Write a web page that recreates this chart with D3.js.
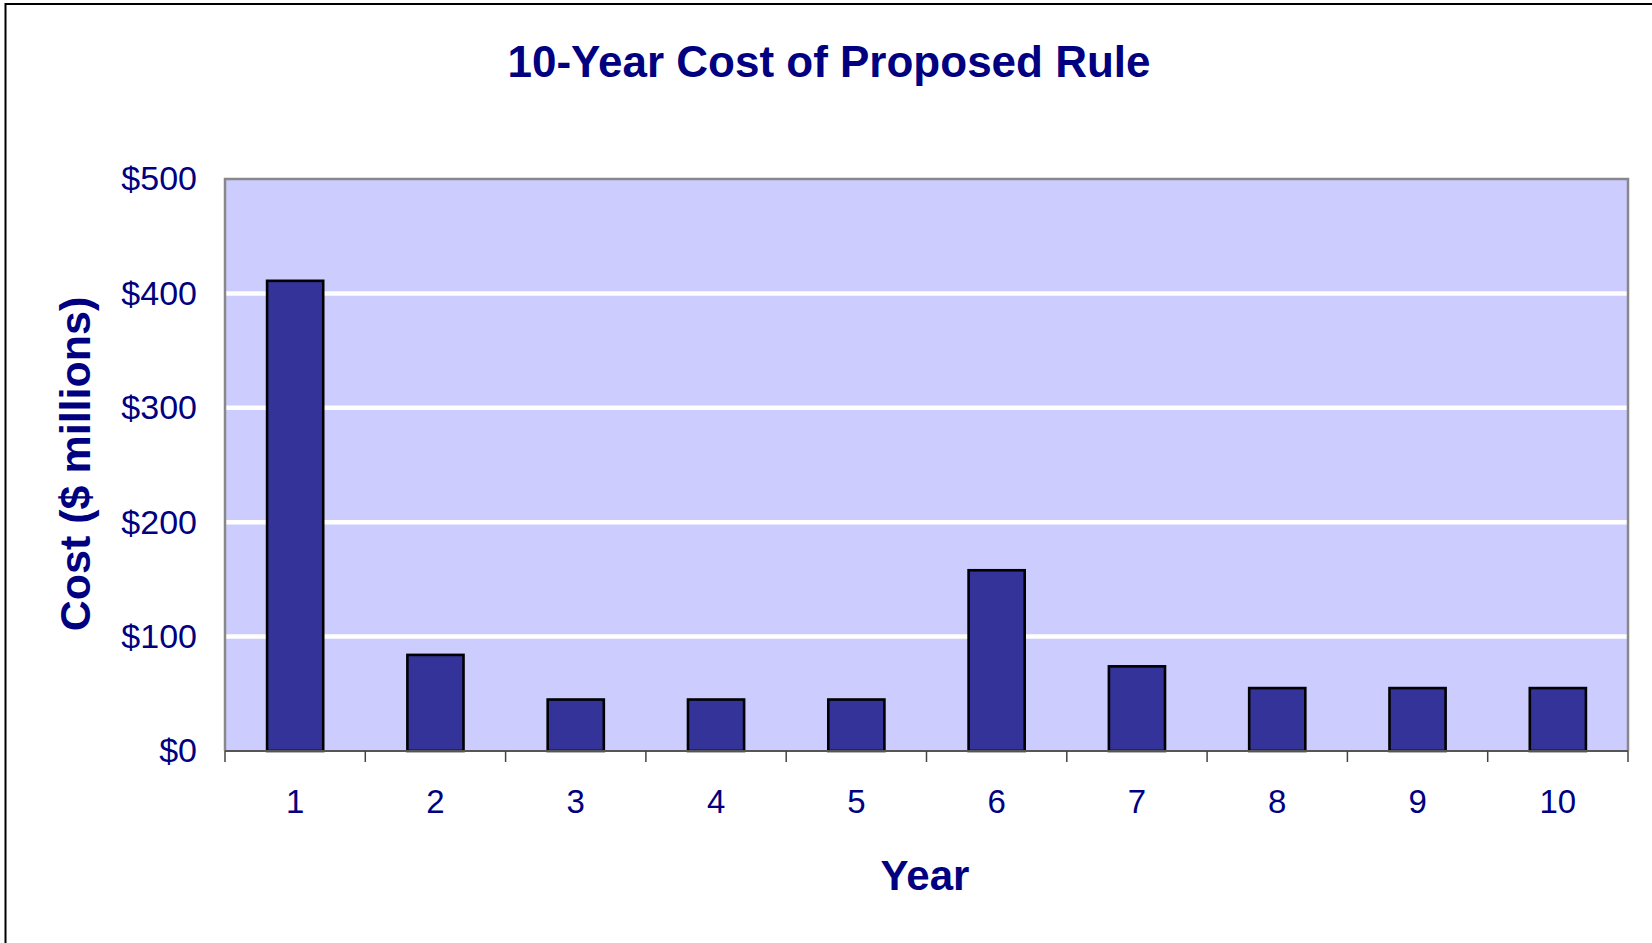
<!DOCTYPE html>
<html>
<head>
<meta charset="utf-8">
<script src="https://cdn.jsdelivr.net/npm/d3@7"></script>
<style>
  body { margin: 0; background: #fff; }
  svg { display: block; font-family: Arial, "Liberation Sans", sans-serif; }
  text { fill: #000080; }
</style>
</head>
<body>
<svg id="chart" width="1652" height="943"></svg>
<script>
const years = ['1', '2', '3', '4', '5', '6', '7', '8', '9', '10'];
const costs = [411, 84, 45, 45, 45, 158, 74, 55, 55, 55]; // $ millions
const yTicks = [0, 100, 200, 300, 400, 500];
const titleText = '10-Year Cost of Proposed Rule';
const xTitle = 'Year';
const yTitle = 'Cost ($ millions)';

const plot = { left: 225, right: 1628, top: 179, bottom: 751 };
const svg = d3.select('#chart');

// outer frame, runs off right and bottom edges like the source
svg.append('rect').attr('x', 5.5).attr('y', 4).attr('width', 1700).attr('height', 1000)
  .attr('fill', '#fff').attr('stroke', '#000').attr('stroke-width', 2);

const x = d3.scaleBand().domain(years).range([plot.left, plot.right]).padding(0);
const y = d3.scaleLinear().domain([0, 500]).range([plot.bottom, plot.top]);

// plot background
svg.append('rect').attr('x', plot.left).attr('y', plot.top)
  .attr('width', plot.right - plot.left).attr('height', plot.bottom - plot.top)
  .attr('fill', '#CCCCFF');

// gridlines
svg.append('g').selectAll('line').data(yTicks.filter(d => d > 0 && d < 500)).join('line')
  .attr('x1', plot.left).attr('x2', plot.right)
  .attr('y1', d => y(d)).attr('y2', d => y(d))
  .attr('stroke', '#fff').attr('stroke-width', 4.5);

// plot border (left, top, right)
svg.append('path')
  .attr('d', `M${plot.left},${plot.bottom}V${plot.top}H${plot.right}V${plot.bottom}`)
  .attr('fill', 'none').attr('stroke', '#888').attr('stroke-width', 2.5);

// bars
const bw = x.bandwidth() * 0.4;
svg.append('g').selectAll('rect').data(costs).join('rect')
  .attr('x', (d, i) => x(years[i]) + (x.bandwidth() - bw) / 2)
  .attr('y', d => y(d))
  .attr('width', bw)
  .attr('height', d => y(0) - y(d))
  .attr('fill', '#333399').attr('stroke', '#000').attr('stroke-width', 2.6);

// x axis: line, between-category ticks, labels
svg.append('line').attr('x1', plot.left).attr('x2', plot.right)
  .attr('y1', plot.bottom).attr('y2', plot.bottom)
  .attr('stroke', '#555').attr('stroke-width', 2);
const bounds = years.map(d => x(d)).concat([x(years[years.length - 1]) + x.bandwidth()]);
svg.append('g').selectAll('line').data(bounds).join('line')
  .attr('x1', d => d).attr('x2', d => d)
  .attr('y1', plot.bottom).attr('y2', plot.bottom + 11)
  .attr('stroke', '#444').attr('stroke-width', 1.5);

const xAxis = svg.append('g').attr('transform', `translate(0,${plot.bottom})`)
  .call(d3.axisBottom(x).tickSize(0).tickPadding(39));
xAxis.select('.domain').remove();
xAxis.selectAll('text').attr('font-size', 33).attr('font-family', null).style('fill', '#000080');

// y axis labels
const yAxis = svg.append('g').attr('transform', `translate(${plot.left},0)`)
  .call(d3.axisLeft(y).tickValues(yTicks).tickFormat(d => '$' + d).tickSize(0).tickPadding(28));
yAxis.select('.domain').remove();
yAxis.selectAll('text').attr('font-size', 34).attr('font-family', null).style('fill', '#000080');

// titles
svg.append('text').attr('x', 829).attr('y', 77).attr('text-anchor', 'middle')
  .attr('font-size', 44).attr('font-weight', 'bold').text(titleText);
svg.append('text').attr('x', 925).attr('y', 890).attr('text-anchor', 'middle')
  .attr('font-size', 42).attr('font-weight', 'bold').text(xTitle);
svg.append('text').attr('transform', 'translate(90,464) rotate(-90)').attr('text-anchor', 'middle')
  .attr('font-size', 43).attr('font-weight', 'bold').text(yTitle);
</script>
</body>
</html>
